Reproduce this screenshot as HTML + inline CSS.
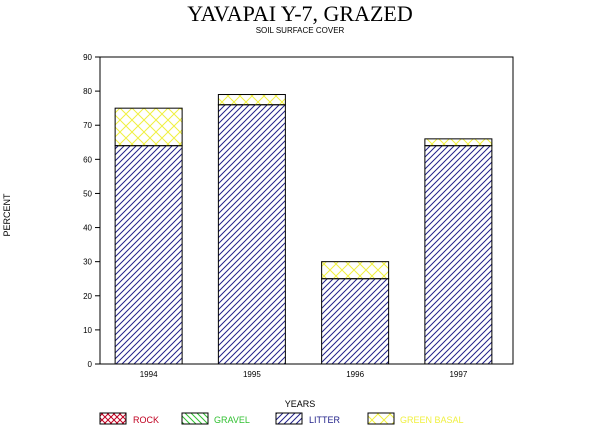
<!DOCTYPE html>
<html><head><meta charset="utf-8"><style>
body{margin:0;background:#fff}
svg text{font-family:"Liberation Sans",sans-serif}
</style></head><body>
<svg id="c" width="600" height="434" xmlns="http://www.w3.org/2000/svg">
<defs>
<pattern id="litter" width="6" height="6" patternUnits="userSpaceOnUse"><path d="M-1,7 L7,-1 M-4,4 L4,-4 M2,10 L10,2" stroke="#22228a" stroke-width="1"/></pattern>
<pattern id="green" width="12" height="12" patternUnits="userSpaceOnUse"><path d="M0,0 L12,12 M12,0 L0,12" stroke="#f0f040" stroke-width="1"/></pattern>
<pattern id="rock" width="6" height="6" patternUnits="userSpaceOnUse"><path d="M0,0 L6,6 M6,0 L0,6" stroke="#c00020" stroke-width="1"/></pattern>
<pattern id="gravel" width="6" height="6" patternUnits="userSpaceOnUse"><path d="M-1,-1 L7,7 M-4,2 L4,10 M2,-4 L10,4" stroke="#30c030" stroke-width="1"/></pattern>
</defs>
<text x="300" y="21" text-anchor="middle" font-size="22" style="font-family:'Liberation Serif',serif">YAVAPAI Y-7, GRAZED</text>
<text x="300" y="33" text-anchor="middle" font-size="8">SOIL SURFACE COVER</text>
<text transform="translate(10,215) rotate(-90)" text-anchor="middle" font-size="9">PERCENT</text>
<text x="300" y="407" text-anchor="middle" font-size="9">YEARS</text>
<g id="plot"></g>
<g>
<g><rect x="100" y="413" width="26" height="11" fill="url(#rock)" stroke="#000"/><text x="133" y="423" font-size="9" fill="#c00020">ROCK</text></g>
<g><rect x="182" y="413" width="26" height="11" fill="url(#gravel)" stroke="#000"/><text x="214" y="423" font-size="9" fill="#30c030">GRAVEL</text></g>
<g><rect x="276" y="413" width="26" height="11" fill="url(#litter)" stroke="#000"/><text x="309" y="423" font-size="9" fill="#22228a">LITTER</text></g>
<g><rect x="368" y="413" width="26" height="11" fill="url(#green)" stroke="#000"/><text x="400" y="423" font-size="9" fill="#f0f040">GREEN BASAL</text></g>
</g>
</svg>
<script>
const categories=["1994","1995","1996","1997"];
const litter=[64,76,25,64];
const greenBasal=[11,3,5,2];
const yTicks=[0,10,20,30,40,50,60,70,80,90];
const NS="http://www.w3.org/2000/svg";
const g=document.getElementById("plot");
const L=100,R=513,T=57,B=364,ymax=90;
const y=v=>B-(v/ymax)*(B-T);
const step=(R-L)/categories.length, bw=67;
const xc=i=>L+step*(i+0.5)-3;
function mk(t,a){const e=document.createElementNS(NS,t);for(const k in a)e.setAttribute(k,a[k]);g.appendChild(e);return e;}
const frame=mk("rect",{x:L,y:T,width:R-L,height:B-T,fill:"none",stroke:"#000"});


yTicks.forEach(v=>{
 const t=mk("line",{x1:L-5,x2:L,y1:y(v),y2:y(v),stroke:"#000"});
 
 
 const l=mk("text",{x:L-8,y:y(v)+3,"text-anchor":"end","font-size":"8"});l.textContent=v;
 
 
});
categories.forEach((c,i)=>{
 const x0=xc(i)-bw/2;
 const b1=mk("rect",{x:x0,y:y(litter[i]),width:bw,height:y(0)-y(litter[i]),fill:"url(#litter)",stroke:"#000"});
 
 
 const top=litter[i]+greenBasal[i];
 const b2=mk("rect",{x:x0,y:y(top),width:bw,height:y(litter[i])-y(top),fill:"url(#green)",stroke:"#000"});
 
 
 const l=mk("text",{x:xc(i),y:B+13,"text-anchor":"middle","font-size":"8"});l.textContent=c;
 
 
});
</script>
</body></html>
